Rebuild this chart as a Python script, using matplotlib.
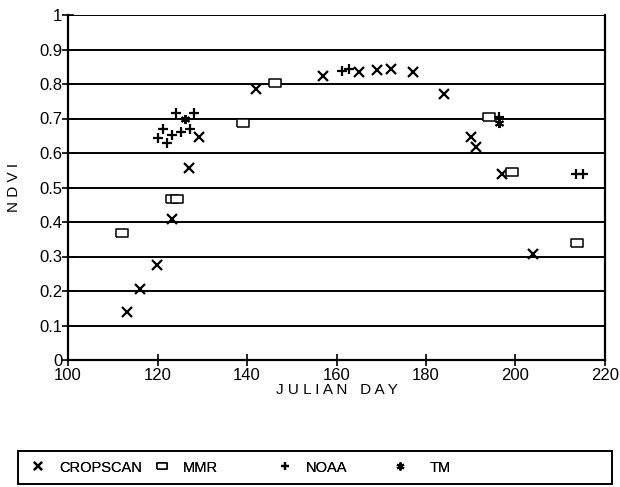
import matplotlib
matplotlib.use("Agg")
import matplotlib.pyplot as plt
from matplotlib.patches import Rectangle

plt.rcParams['font.family'] = ['Liberation Sans', 'DejaVu Sans']

# NDVI vs Julian day
cropscan_day = [113.2, 116.1, 119.9, 123.2, 127.0, 129.3, 142.0, 157.0, 165.0,
                169.1, 172.2, 177.1, 184.0, 190.1, 191.2, 197.0, 203.9]
cropscan_ndvi = [0.14, 0.206, 0.275, 0.409, 0.557, 0.645, 0.785, 0.823, 0.835,
                 0.84, 0.843, 0.835, 0.771, 0.645, 0.617, 0.539, 0.307]

mmr_day = [112.1, 123.2, 124.4, 139.1, 146.3, 194.1, 199.2, 213.7]
mmr_ndvi = [0.368, 0.467, 0.467, 0.687, 0.803, 0.704, 0.545, 0.339]

noaa_day = [124.1, 128.2, 121.2, 127.3, 125.3, 123.2, 120.1, 122.1,
            161.2, 162.8, 196.3, 213.5, 215.1]
noaa_ndvi = [0.716, 0.716, 0.669, 0.670, 0.661, 0.652, 0.643, 0.629,
             0.838, 0.843, 0.704, 0.539, 0.539]

tm_day = [126.1, 196.3]
tm_ndvi = [0.699, 0.687]

yticks = [0, 0.1, 0.2, 0.3, 0.4, 0.5, 0.6, 0.7, 0.8, 0.9, 1]
ytick_labels = ['0', '0.1', '0.2', '0.3', '0.4', '0.5', '0.6', '0.7', '0.8', '0.9', '1']
xticks = [100, 120, 140, 160, 180, 200, 220]

fig = plt.figure(figsize=(6.2, 4.87), dpi=100)
ax = fig.add_axes([68/620, 1-360/487, 537/620, 345/487])

for y in yticks[1:]:
    ax.axhline(y, color='black', lw=1.4, zorder=1)

rect = [(-1.4, -1), (1.4, -1), (1.4, 1), (-1.4, 1), (-1.4, -1)]

h1, = ax.plot(cropscan_day, cropscan_ndvi, ls='none', marker='x', ms=6.5, mew=1.6,
              color='black', label='CROPSCAN', zorder=3)
h2, = ax.plot(mmr_day, mmr_ndvi, ls='none', marker=rect, ms=8, mew=1.1,
              mfc='white', mec='black', label='MMR', zorder=3)
h3, = ax.plot(noaa_day, noaa_ndvi, ls='none', marker='+', ms=7, mew=1.6,
              color='black', label='NOAA', zorder=3)
h4, = ax.plot(tm_day, tm_ndvi, ls='none', marker=(6, 2, 0), ms=6.5, mew=1.4,
              color='black', label='TM', zorder=3)

ax.set_xlim(100, 220)
ax.set_ylim(0, 1)
ax.set_xticks(xticks)
ax.set_yticks(yticks)
ax.set_yticklabels(ytick_labels)
ax.tick_params(axis='both', direction='inout', length=8, width=1.2,
               labelsize=12, color='black', pad=0)
ax.tick_params(axis='x', pad=2)

ax.spines['top'].set_visible(False)
for s in ['left', 'bottom', 'right']:
    ax.spines[s].set_linewidth(1.6)

ax.set_xlabel('J U L I A N   D A Y', fontsize=11, labelpad=0)
ax.set_ylabel('N D V I', fontsize=11, labelpad=13)

# legend box spans nearly the full width below the axes
fig.patches.append(Rectangle((18/620, 3/487), 594/620, 33/487,
                             transform=fig.transFigure, fill=False,
                             edgecolor='black', lw=1.4))
# one entry per legend so each sits where the original put it
marker_px = [38, 162, 285, 400]
text_pad = [0.85, 0.85, 0.8, 1.45]
for h, mx, tp in zip([h1, h2, h3, h4], marker_px, text_pad):
    lg = fig.legend(handles=[h], loc='center left',
                    bbox_to_anchor=((mx - 8.75) / 620, 19.5 / 487),
                    frameon=False, fontsize=10.5, handlelength=1.2,
                    handletextpad=tp, markerscale=0.85,
                    borderpad=0, borderaxespad=0)
    fig.add_artist(lg)

fig.savefig('out.png', dpi=100)
